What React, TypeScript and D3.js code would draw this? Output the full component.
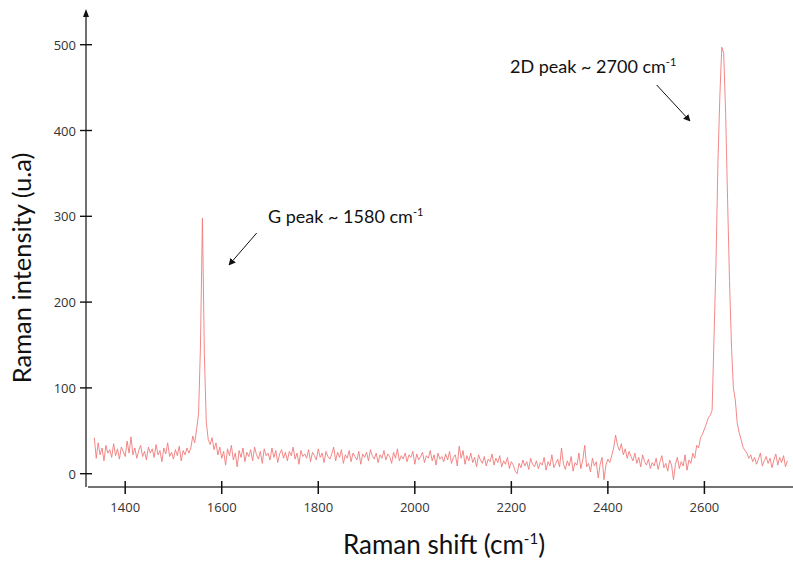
import React from "react";
import * as d3 from "d3";

// Raman spectrum sampled every 4 cm-1 starting at 1336 cm-1
const SHIFT_START = 1336;
const SHIFT_STEP = 4;
const intensity: number[] = [
  42, 18, 36, 22, 30, 15, 33, 24, 28, 19,
  35, 21, 29, 17, 31, 26, 20, 38, 24, 43,
  22, 30, 18, 27, 33, 20, 26, 16, 31, 24,
  29, 19, 34, 22, 27, 14, 30, 23, 36, 20,
  25, 17, 28, 21, 32, 15, 27, 22, 30, 24,
  30, 44, 36, 52, 70, 150, 298, 140, 60, 40,
  34, 42, 28, 36, 22, 31, 18, 26, 10, 29,
  21, 33, 16, 24, 8, 27, 19, 30, 14, 25,
  20, 28, 15, 31, 22, 17, 26, 12, 29, 21,
  24, 16, 30, 19, 27, 13, 23, 28, 18, 25,
  15, 26, 21, 31, 17, 24, 11, 27, 20, 23,
  18, 28, 14, 25, 21, 16, 29, 19, 24, 13,
  26, 20, 17, 23, 31, 15, 25, 19, 28, 12,
  22, 18, 27, 14, 24, 20, 16, 26, 11, 23,
  19, 25, 15, 28, 21, 17, 24, 13, 22, 18,
  27, 16, 23, 20, 12, 25, 18, 29, 15, 21,
  17, 24, 14, 22, 19, 26, 11, 23, 16, 20,
  25, 13, 21, 18, 27, 15, 22, 10, 24, 17,
  20, 14, 23, 16, 26, 12, 19, 22, 9, 32,
  18, 27, 11, 21, 15, 24, 13, 19, 8, 22,
  16, 12, 20, 9, 17, 14, 23, 10, 18, 13,
  21, 8, 15, 11, 19, 6, 14, 10, 3, 0,
  12, 7, 16, 9, 14, 5, 18, 11, 8, 15,
  6, 13, 10, 19, 4, 14, 9, 22, 7, 12,
  17, 8, 30, 11, 5, 15, 9, 20, 3, 13,
  10, 24, 6, 16, 33, 8, 12, 2, 18, 9,
  14, -5, 11, 19, -7, 10, 17, 13, 21, 30,
  45, 33, 27, 35, 22, 29, 18, 26, 20, 15,
  24, 12, 19, 8, 22, 14, 10, 17, 6, 13,
  9, 18, 5, 14, 21, 7, 12, 3, 16, 10,
  -7, 11, 19, 6, 14, 9, 22, 4, 16, 12,
  24, 18, 33, 30, 42, 46, 52, 58, 65, 68,
  74, 160, 245, 362, 440, 497, 490, 420, 320, 225,
  150, 100, 86, 59, 48, 40, 31, 27, 24, 18,
  22, 14, 19, 11, 17, 24, 9, 15, 20, 12,
  18, 7, 16, 23, 10, 19, 13, 21, 8, 15,
];

const xTicks = [1400, 1600, 1800, 2000, 2200, 2400, 2600];
const yTicks = [0, 100, 200, 300, 400, 500];

const W = 793;
const H = 561;

export default function App() {
  const x = d3.scaleLinear().domain([1400, 2600]).range([125.2, 704.4]);
  const y = d3.scaleLinear().domain([0, 500]).range([473.7, 44.7]);

  const pts = intensity.map((v, i) => [SHIFT_START + i * SHIFT_STEP, v] as [number, number]);
  const line = d3
    .line<[number, number]>()
    .x((d) => x(d[0]))
    .y((d) => y(d[1]));

  const axisX = 86;
  const axisY = 487;

  return (
    <svg
      width={W}
      height={H}
      viewBox={`0 0 ${W} ${H}`}
      style={{ position: "absolute", left: 0, top: 0, background: "#fff" }}
    >
      <defs>
        <marker id="arr" viewBox="0 0 10 10" refX="9" refY="5" markerWidth="7" markerHeight="7" orient="auto">
          <path d="M0,0 L10,5 L0,10 z" fill="#111" />
        </marker>
      </defs>
      <rect x={0} y={0} width={W} height={H} fill="#fff" />

      {/* spectrum */}
      <path d={line(pts) || ""} fill="none" stroke="#f07a7a" strokeWidth={0.9} strokeLinejoin="round" />

      {/* y axis */}
      <line x1={axisX} y1={axisY} x2={axisX} y2={15} stroke="#111" strokeWidth={1.2} />
      <path d={`M${axisX},9 L${axisX - 3},17 L${axisX + 3},17 Z`} fill="#111" />
      {yTicks.map((t) => (
        <g key={"y" + t}>
          <line x1={80} x2={92} y1={y(t)} y2={y(t)} stroke="#111" strokeWidth={1.4} />
          <text
            x={76}
            y={y(t)}
            textAnchor="end"
            dominantBaseline="central"
            fontFamily="'Open Sans', sans-serif"
            fontSize={13}
            fill="#333"
          >
            {t}
          </text>
        </g>
      ))}

      {/* x axis */}
      <line x1={88} x2={W} y1={axisY} y2={axisY} stroke="#444" strokeWidth={1.3} />
      {xTicks.map((t) => (
        <g key={"x" + t}>
          <line x1={x(t)} x2={x(t)} y1={481} y2={494} stroke="#111" strokeWidth={1.5} />
          <text
            x={x(t)}
            y={512}
            textAnchor="middle"
            fontFamily="'Open Sans', sans-serif"
            fontSize={13}
            fill="#333"
          >
            {t}
          </text>
        </g>
      ))}

      {/* axis titles */}
      <text x={444} y={554} textAnchor="middle" fontFamily="Lato, sans-serif" fontSize={26} fill="#111">
        Raman shift (cm
        <tspan fontSize={15} dy={-10}>-1</tspan>
        <tspan dy={10}>)</tspan>
      </text>
      <text
        transform={`translate(31,268) rotate(-90)`}
        textAnchor="middle"
        fontFamily="Lato, sans-serif"
        fontSize={25.5}
        fill="#111"
      >
        Raman intensity (u.a)
      </text>

      {/* annotations */}
      <text x={268} y={223} fontFamily="Lato, sans-serif" fontSize={18} fill="#111">
        G peak ~ 1580 cm
        <tspan fontSize={11} dy={-7}>-1</tspan>
      </text>
      <line x1={256.7} y1={233} x2={229} y2={265} stroke="#111" strokeWidth={1} markerEnd="url(#arr)" />

      <text x={510} y={73} fontFamily="Lato, sans-serif" fontSize={18} fill="#111">
        2D peak ~ 2700 cm
        <tspan fontSize={11} dy={-7}>-1</tspan>
      </text>
      <line x1={656.7} y1={85} x2={690} y2={121} stroke="#111" strokeWidth={1} markerEnd="url(#arr)" />
    </svg>
  );
}
